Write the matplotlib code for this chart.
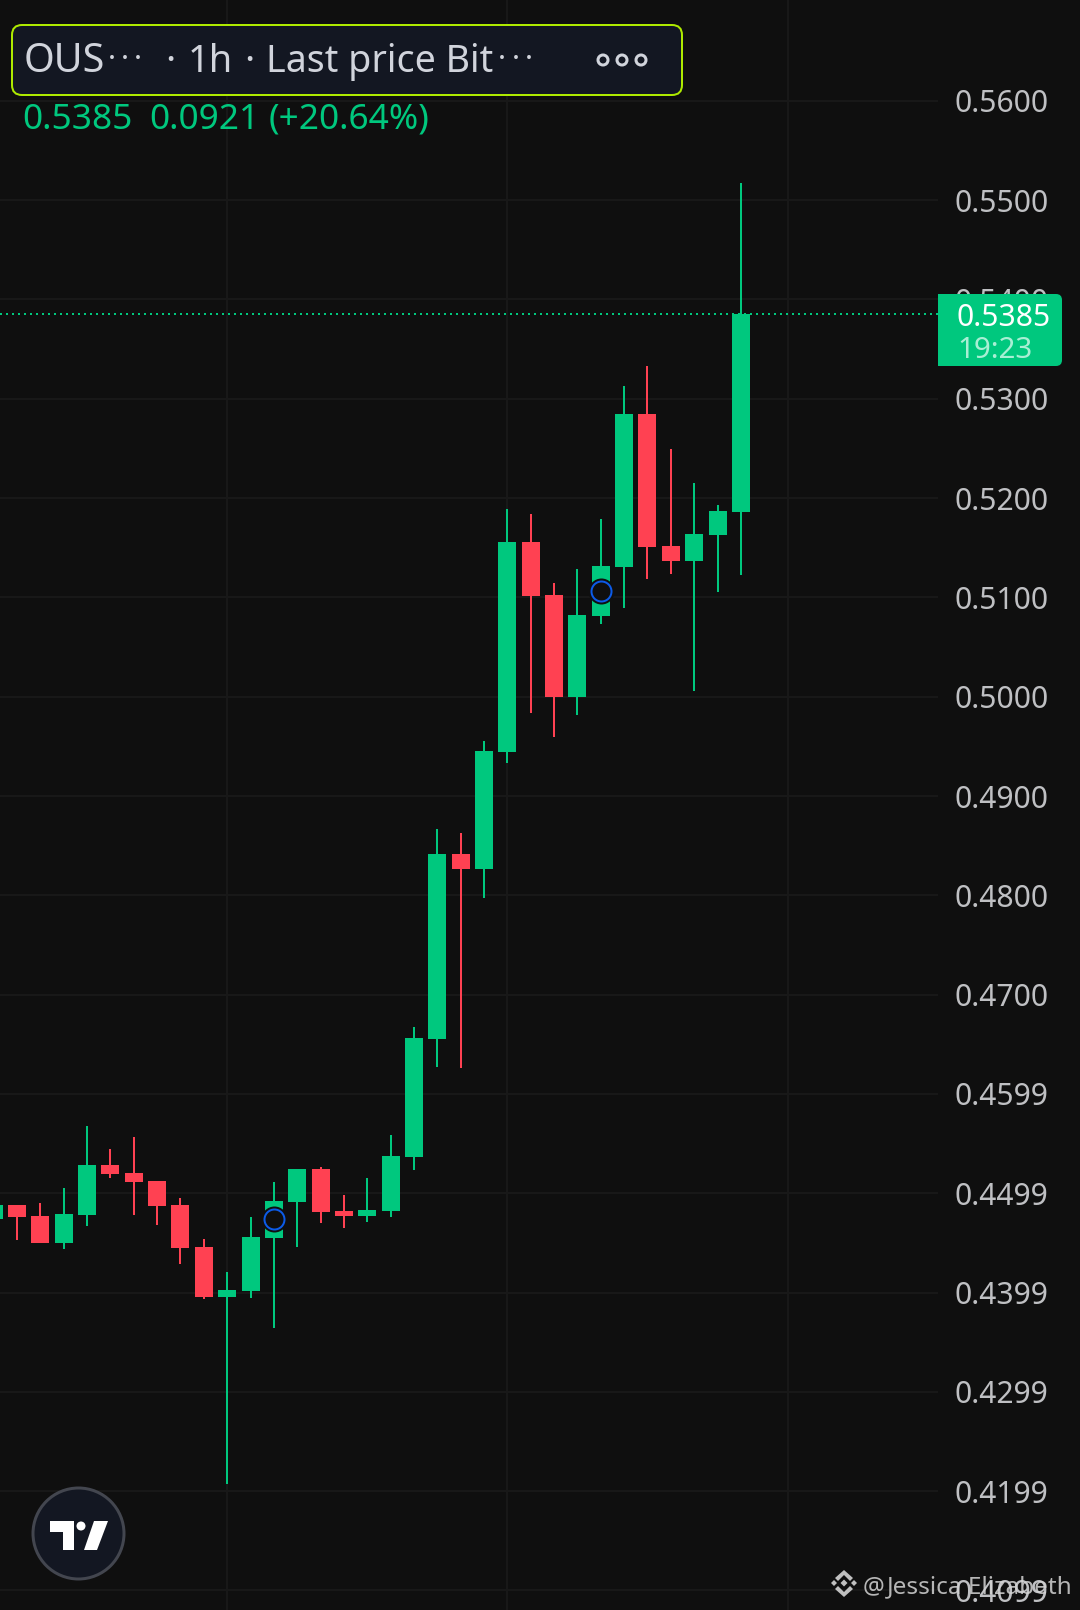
import matplotlib
matplotlib.use('Agg')
import matplotlib.pyplot as plt
from matplotlib.patches import Circle, FancyBboxPatch, Polygon, Rectangle

plt.rcParams['font.family'] = ['Noto Sans', 'DejaVu Sans']

candle_index = list(range(-1, 32))
opens = [0.4474, 0.4488, 0.4477, 0.4450, 0.4478, 0.4528, 0.4520, 0.4512, 0.4488, 0.4446, 0.4395,
         0.4402, 0.4455, 0.4491, 0.4524, 0.4482, 0.4477, 0.4482, 0.4536, 0.4655, 0.4842, 0.4826,
         0.4944, 0.5156, 0.5102, 0.5000, 0.5081, 0.5131, 0.5285, 0.5152, 0.5137, 0.5163, 0.5186]
closes = [0.4488, 0.4476, 0.4450, 0.4479, 0.4528, 0.4519, 0.4511, 0.4487, 0.4445, 0.4395, 0.4403,
          0.4456, 0.4492, 0.4524, 0.4481, 0.4477, 0.4483, 0.4537, 0.4656, 0.4842, 0.4826, 0.4945,
          0.5156, 0.5101, 0.5000, 0.5082, 0.5132, 0.5285, 0.5151, 0.5137, 0.5164, 0.5187, 0.5385]
highs = [0.4488, 0.4488, 0.4490, 0.4505, 0.4568, 0.4545, 0.4557, 0.4512, 0.4495, 0.4454, 0.4421,
         0.4476, 0.4511, 0.4524, 0.4526, 0.4498, 0.4515, 0.4559, 0.4667, 0.4867, 0.4863, 0.4955,
         0.5189, 0.5184, 0.5114, 0.5129, 0.5179, 0.5313, 0.5333, 0.5249, 0.5215, 0.5193, 0.5517]
lows = [0.4474, 0.4453, 0.4450, 0.4444, 0.4467, 0.4515, 0.4478, 0.4468, 0.4429, 0.4393, 0.4207,
        0.4394, 0.4364, 0.4446, 0.4470, 0.4465, 0.4471, 0.4476, 0.4523, 0.4627, 0.4626, 0.4797,
        0.4933, 0.4984, 0.4959, 0.4982, 0.5073, 0.5089, 0.5119, 0.5124, 0.5006, 0.5105, 0.5123]

grid_prices = [0.56, 0.55, 0.54, 0.53, 0.52, 0.51, 0.50, 0.49, 0.48, 0.47, 0.46, 0.45, 0.44, 0.43, 0.42, 0.41]
price_labels = ['0.5600', '0.5500', '0.5400', '0.5300', '0.5200', '0.5100', '0.5000', '0.4900',
                '0.4800', '0.4700', '0.4599', '0.4499', '0.4399', '0.4299', '0.4199', '0.4099']
time_grid = [9, 21, 33]
marker_index = [11, 25]
marker_price = [0.4474, 0.5106]
last_price = 0.5385

BG = '#0f0f0f'
GRID = '#181818'
GREEN = '#00c87e'
RED = '#ff4152'
LABEL = '#bfc0c3'
PX = 0.72  # one pixel in points at dpi 100

fig = plt.figure(figsize=(10.8, 16.1), dpi=100, facecolor=BG)

# price pane, 938 px wide, candles 23.35 px apart
ax = fig.add_axes([0, 0, 938 / 1080, 1], facecolor=BG)
ax.set_xlim(-17 / 23.35, 921 / 23.35)
ax.set_ylim(0.5 - 913.3 / 9930, 0.5 + 696.7 / 9930)
for spine in ax.spines.values():
    spine.set_visible(False)

ax.set_yticks(grid_prices)
ax.set_yticklabels(price_labels)
ax.yaxis.tick_right()
ax.tick_params(axis='y', length=0, pad=17 * PX, labelsize=30 * PX, labelcolor=LABEL)
ax.set_xticks(time_grid)
ax.tick_params(axis='x', length=0, labelbottom=False)
ax.grid(True, color=GRID, lw=2 * PX)
ax.set_axisbelow(True)

ax.axhline(last_price, color=GREEN, lw=2 * PX, ls=(0, (1, 2)), dash_capstyle='butt', zorder=2)

for i, o, c, h, l in zip(candle_index, opens, closes, highs, lows):
    col = GREEN if c >= o else RED
    ax.vlines(i, l, h, color=col, lw=2 * PX, zorder=3)
    ax.bar(i, abs(c - o), bottom=min(o, c), width=18 / 23.35, color=col, lw=0, zorder=4)

ax.scatter(marker_index, marker_price, s=(26 * PX) ** 2, color=BG, lw=0, zorder=5)
ax.scatter(marker_index, marker_price, s=(20 * PX) ** 2, facecolor=BG, edgecolor='#0c5be8', lw=2 * PX, zorder=6)

# overlay in image pixels for the widgets drawn over the chart
top = fig.add_axes([0, 0, 1, 1], facecolor='none', zorder=10)
top.set_xlim(0, 1080)
top.set_ylim(1610, 0)
top.axis('off')

top.add_patch(FancyBboxPatch((12, 25), 670, 70, boxstyle='round,pad=0,rounding_size=10',
                             fc='#131722', ec='#aeea00', lw=2 * PX))
TITLE = '#d1d4dc'
for x, s, size in [(24, 'OUS', 39.5), (188, '1h', 38), (266, 'Last price Bit', 37.6)]:
    top.text(x, 72, s, color=TITLE, fontsize=size * PX, va='baseline', ha='left')
for x in [170, 249]:
    top.text(x, 72, '·', color=TITLE, fontsize=38 * PX, va='baseline', ha='center')
for x in [112, 125, 138, 502, 516, 529]:
    top.text(x, 68, '·', color=TITLE, fontsize=30 * PX, va='baseline', ha='center')
for x in [603, 622, 641]:
    top.add_patch(Circle((x, 60), 5, fc='none', ec=TITLE, lw=3 * PX))

for x, s in [(22.5, '0.5385'), (149, '0.0921'), (269, '(+20.64%)')]:
    top.text(x, 129, s, color=GREEN, fontsize=35.2 * PX, va='baseline', ha='left')

# last price badge, only the right corners are rounded
top.add_patch(FancyBboxPatch((938, 294), 124, 72, boxstyle='round,pad=0,rounding_size=6', fc=GREEN, ec='none'))
top.add_patch(Rectangle((938, 294), 20, 72, fc=GREEN, ec='none'))
top.text(957, 326, '0.5385', color='white', fontsize=30 * PX, va='baseline', ha='left')
top.text(957, 358, '19:23', color='#a8efd4', fontsize=29.5 * PX, va='baseline', ha='left')

# tradingview logo
top.add_patch(Circle((78.5, 1533.5), 45.5, fc='#131722', ec='#43464f', lw=3 * PX))
top.add_patch(Polygon([(50, 1521), (74, 1521), (74, 1550), (63, 1550), (63, 1532), (50, 1532)], fc='white', ec='none'))
top.add_patch(Circle((81, 1526), 4.5, fc='white', ec='none'))
top.add_patch(Polygon([(94, 1521), (108, 1521), (97, 1550), (84, 1550)], fc='white', ec='none'))

# watermark
WM = '#d4d4d4'
for cx, cy, r in [(844, 1583, 3.5), (834, 1583, 3), (854, 1583, 3)]:
    top.add_patch(Polygon([(cx - r, cy), (cx, cy - r), (cx + r, cy), (cx, cy + r)], fc=WM, ec='none', alpha=0.9))
top.add_patch(Polygon([(844, 1570), (853, 1578), (850, 1581), (844, 1575), (838, 1581), (835, 1578)], fc=WM, ec='none', alpha=0.9))
top.add_patch(Polygon([(844, 1597), (853, 1589), (850, 1586), (844, 1592), (838, 1586), (835, 1589)], fc=WM, ec='none', alpha=0.9))
top.text(863, 1593, '@', color=WM, fontsize=24.3 * PX, va='baseline', ha='left', alpha=0.85)
top.text(887, 1593, 'Jessica Elizabeth', color=WM, fontsize=24.3 * PX, va='baseline', ha='left', alpha=0.85)

fig.savefig('out.png', dpi=100, facecolor=BG)
